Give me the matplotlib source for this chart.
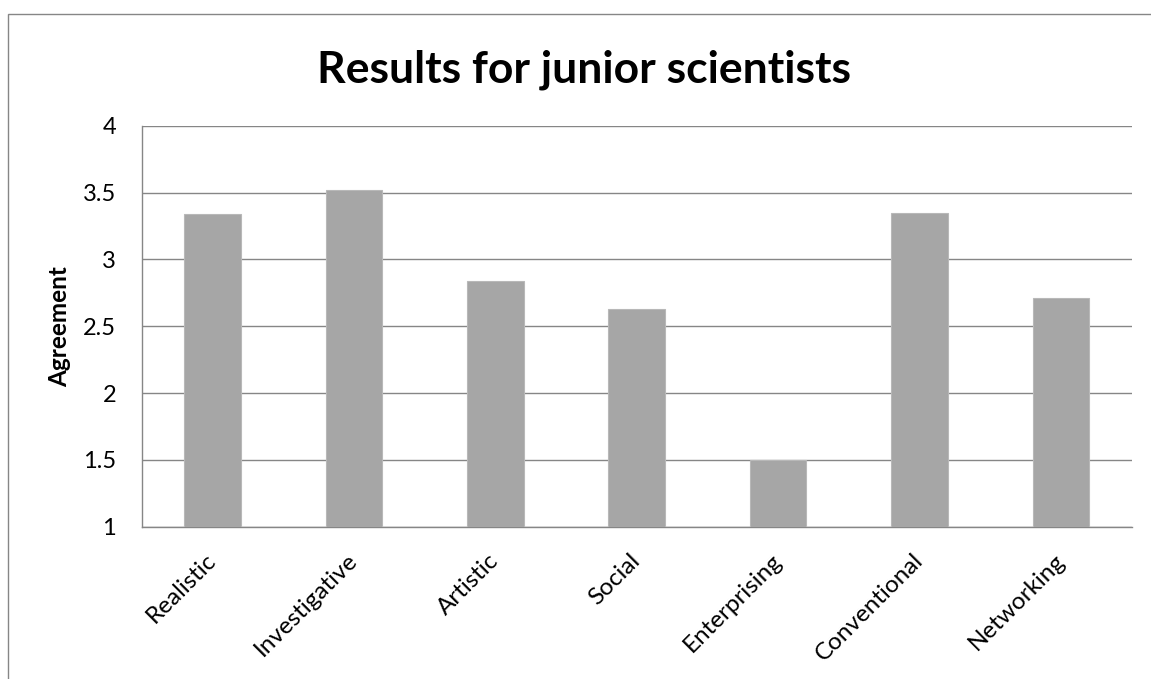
import matplotlib
matplotlib.use("Agg")
import matplotlib.pyplot as plt
from matplotlib.patches import Rectangle

# Mean agreement per interest category
categories = ["Realistic", "Investigative", "Artistic", "Social",
              "Enterprising", "Conventional", "Networking"]
agreement = [3.34, 3.52, 2.84, 2.63, 1.50, 3.35, 2.71]
y_ticks = [1, 1.5, 2, 2.5, 3, 3.5, 4]
y_tick_labels = ["1", "1.5", "2", "2.5", "3", "3.5", "4"]

W, H, DPI = 1151, 679, 100
plt.rcParams["font.family"] = ["Lato", "DejaVu Sans"]

fig = plt.figure(figsize=(W / DPI, H / DPI), dpi=DPI)
fig.patch.set_facecolor("white")

# chart frame (open on the right and bottom edges of the canvas)
frame = Rectangle((8 / W, -0.05), 1.2, 1 - 14 / H + 0.05,
                  transform=fig.transFigure, fill=False,
                  edgecolor="#868686", linewidth=1.0, clip_on=False)
fig.patches.append(frame)

left, right, top, bottom = 141.7, 1131.7, 125.7, 526.7
ax = fig.add_axes([left / W, 1 - bottom / H, (right - left) / W, (bottom - top) / H])

x = range(len(categories))
ax.bar(x, agreement, width=0.4, bottom=0, color="#A6A6A6",
       edgecolor="#B8B8B8", linewidth=0.8, zorder=3)

ax.set_xlim(-0.5, len(categories) - 0.5)
ax.set_ylim(1, 4)
ax.set_yticks(y_ticks)
ax.set_yticklabels(y_tick_labels)
ax.set_axisbelow(True)
ax.yaxis.grid(True, color="#868686", linewidth=1.0)
ax.xaxis.grid(False)

for side in ("top", "right"):
    ax.spines[side].set_visible(False)
for side in ("left", "bottom"):
    ax.spines[side].set_color("#868686")
    ax.spines[side].set_linewidth(1.0)

ax.tick_params(axis="y", length=0, pad=18.5, labelsize=17, labelcolor="black")
ax.tick_params(axis="x", length=0, pad=22, labelsize=17.5, labelcolor="black")
ax.set_xticks(list(x))
ax.set_xticklabels(categories, rotation=45, ha="right", va="center",
                   rotation_mode="anchor")

fig.text(60 / W, 1 - 327 / H, "Agreement", rotation=90, ha="center",
         va="center", fontsize=17.5, fontweight="bold")

fig.text(584 / W, 1 - 82 / H, "Results for junior scientists", ha="center",
         va="baseline", fontsize=32, fontweight="bold")

fig.savefig("out.png", dpi=DPI, facecolor="white")
